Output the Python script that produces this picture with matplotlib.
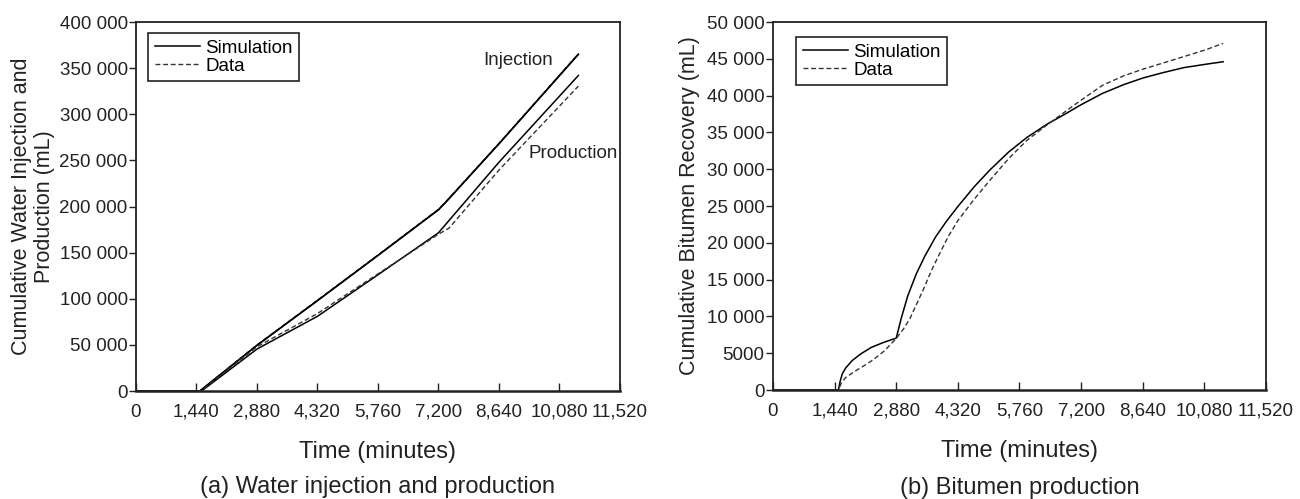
import numpy as np
from matplotlib import pyplot as plt

plt.rcParams['font.family'] = ['Liberation Sans', 'DejaVu Sans']

# (a) water injection and production, time in minutes, volume in mL
inj_t = [0, 1520, 2880, 4320, 5760, 7200, 7400, 8640, 10530]
inj_sim = [0, 0, 49500, 98000, 147000, 196500, 206000, 268000, 365000]
inj_data = [0, 0, 50000, 98500, 147500, 197000, 206500, 268500, 365500]

prod_sim_t = [0, 1560, 2880, 4320, 5760, 7200, 8640, 10530]
prod_sim = [0, 0, 45500, 81000, 126000, 171500, 248000, 342000]
prod_data_t = [0, 1540, 2880, 3600, 4320, 5760, 7200, 7450, 8640, 10530]
prod_data = [0, 0, 48000, 66000, 84000, 127000, 170000, 176500, 239500, 330500]

# (b) bitumen production
bit_sim_t = [0, 1530, 1570, 1620, 1700, 1850, 2050, 2300, 2600, 2880, 3000,
             3150, 3350, 3550, 3800, 4050, 4330, 4700, 5070, 5500, 5930, 6400,
             6800, 7180, 7700, 8200, 8650, 9100, 9600, 10100, 10520]
bit_sim = [0, 0, 1200, 2200, 3000, 4000, 4900, 5800, 6500, 7050, 9800,
           12800, 15800, 18200, 20800, 22900, 25000, 27600, 29900, 32300,
           34300, 36100, 37400, 38700, 40300, 41500, 42400, 43100, 43800,
           44250, 44600]
bit_data_t = [0, 1530, 1600, 1700, 1900, 2100, 2340, 2600, 2880, 3050, 3200,
              3350, 3510, 3700, 3900, 4100, 4330, 4700, 5070, 5500, 5930, 6400,
              6800, 7180, 7700, 8200, 8650, 9100, 9600, 10100, 10520]
bit_data = [0, 0, 1000, 1700, 2500, 3200, 4100, 5300, 7000, 8300, 9700,
            11600, 13600, 16200, 18600, 20900, 23100, 25900, 28500, 31400,
            33900, 36000, 37700, 39300, 41400, 42700, 43600, 44400, 45300,
            46200, 47100]

x_ticks = [0, 1440, 2880, 4320, 5760, 7200, 8640, 10080, 11520]
x_labels = ['0', '1,440', '2,880', '4,320', '5,760', '7,200', '8,640', '10,080', '11,520']
ya_ticks = list(range(0, 400001, 50000))
ya_labels = ['0', '50 000', '100 000', '150 000', '200 000', '250 000',
             '300 000', '350 000', '400 000']
yb_ticks = list(range(0, 50001, 5000))
yb_labels = ['0', '5000', '10 000', '15 000', '20 000', '25 000', '30 000',
             '35 000', '40 000', '45 000', '50 000']

SIM = dict(color='black', lw=1.1, ls='-')
DAT = dict(color='#333333', lw=1.0, ls=(0, (3.5, 2)))


def style_axes(ax, yticks, ylabels, ymax):
    ax.set_xlim(0, 11520)
    ax.set_ylim(0, ymax)
    ax.set_xticks(x_ticks)
    ax.set_xticklabels(x_labels)
    ax.set_yticks(yticks)
    ax.set_yticklabels(ylabels)
    ax.tick_params(axis='x', direction='in', length=6, width=1, pad=9,
                   labelsize=13.5, colors='#222222')
    ax.tick_params(axis='y', direction='out', length=5, width=1, pad=1,
                   labelsize=13.5, colors='#222222')
    for s in ax.spines.values():
        s.set_linewidth(1.3)
        s.set_color('#222222')
    ax.spines['bottom'].set_linewidth(1.8)
    ax.set_xlabel('Time (minutes)', fontsize=17, labelpad=15, color='#222222')


def add_legend(ax, x0, y0):
    leg = ax.legend(loc='upper left', bbox_to_anchor=(x0, y0), borderaxespad=0,
                    fontsize=13.5, handlelength=2.4, handletextpad=0.3,
                    labelspacing=0.05, borderpad=0.35, fancybox=False,
                    framealpha=1, edgecolor='#222222')
    leg.get_frame().set_linewidth(1.2)


fig = plt.figure(figsize=(13, 4.99), dpi=100)
ax1 = fig.add_axes([0.1046, 0.2164, 0.3723, 0.7395])
ax2 = fig.add_axes([0.5946, 0.2184, 0.3792, 0.7375])

ax1.plot(inj_t, inj_sim, label='Simulation', **SIM)
ax1.plot(inj_t, inj_data, label='Data', **DAT)
ax1.plot(inj_t, inj_sim, **SIM)
ax1.plot(prod_sim_t, prod_sim, **SIM)
ax1.plot(prod_data_t, prod_data, **DAT)
ax1.text(8260, 358000, 'Injection', fontsize=13.5, va='center', color='#222222')
ax1.text(9353, 258000, 'Production', fontsize=13.5, va='center', color='#222222')
style_axes(ax1, ya_ticks, ya_labels, 400000)
ax1.set_ylabel('Cumulative Water Injection and\nProduction (mL)', fontsize=15.5,
               linespacing=1.1, color='#222222')
ax1.yaxis.set_label_coords(-0.168, 0.5)
add_legend(ax1, 0.025, 0.97)

ax2.plot(bit_sim_t, bit_sim, label='Simulation', **SIM)
ax2.plot(bit_data_t, bit_data, label='Data', **DAT)
style_axes(ax2, yb_ticks, yb_labels, 50000)
ax2.set_ylabel('Cumulative Bitumen Recovery (mL)', fontsize=15.5, color='#222222')
ax2.yaxis.set_label_coords(-0.148, 0.5)
add_legend(ax2, 0.047, 0.959)

fig.text(378 / 1300, 1 - 487 / 499, '(a) Water injection and production',
         fontsize=17, ha='center', va='center', color='#222222')
fig.text(1020 / 1300, 1 - 488 / 499, '(b) Bitumen production',
         fontsize=17, ha='center', va='center', color='#222222')

fig.savefig('out.png', dpi=100)
